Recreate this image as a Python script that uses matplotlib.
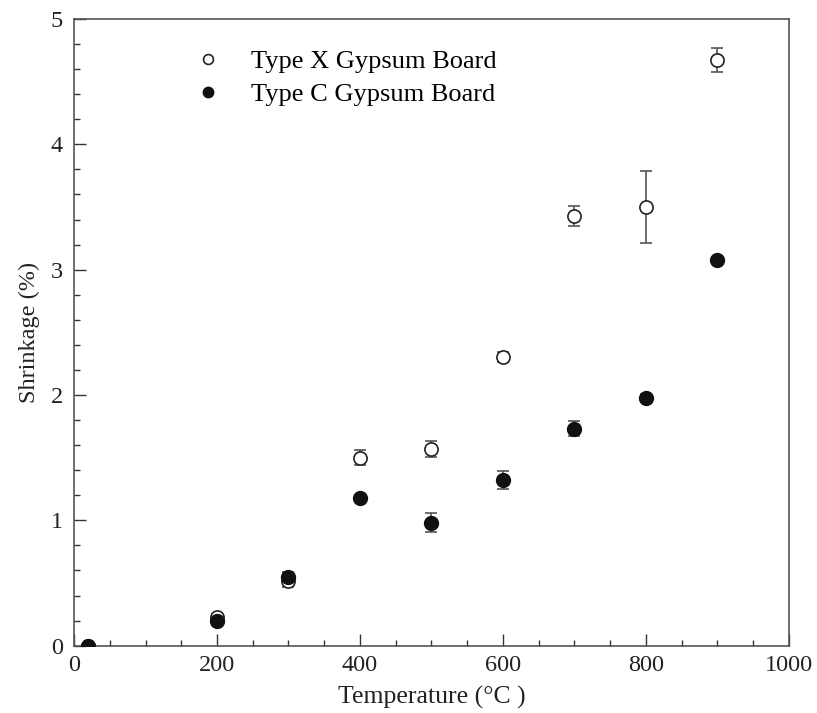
import matplotlib
matplotlib.use("Agg")
import matplotlib.pyplot as plt
from matplotlib.ticker import MultipleLocator

plt.rcParams['font.family'] = ['Liberation Serif', 'DejaVu Serif']

temps = [20, 200, 300, 400, 500, 600, 700, 800, 900]
type_x = [0.0, 0.23, 0.52, 1.50, 1.57, 2.30, 3.43, 3.50, 4.67]
type_x_err = [0.0, 0.02, 0.05, 0.06, 0.065, 0.04, 0.08, 0.285, 0.095]
type_c = [0.0, 0.20, 0.55, 1.18, 0.98, 1.32, 1.73, 1.98, 3.08]
type_c_err = [0.0, 0.03, 0.04, 0.0, 0.076, 0.07, 0.06, 0.03, 0.0]

fig = plt.figure(figsize=(8.17, 7.13), dpi=100)
ax = fig.add_axes([0.0906, 0.0944, 0.875, 0.879])

ecol = '#555555'
ax.errorbar(temps, type_x, yerr=type_x_err, fmt='o', mfc='white', mec='#222222',
            mew=1.2, ms=9.5, ecolor=ecol, elinewidth=1.2, capsize=4.2, capthick=1.2,
            label='Type X Gypsum Board', zorder=3)
ax.errorbar(temps, type_c, yerr=type_c_err, fmt='o', mfc='#111111', mec='#111111',
            ms=10, ecolor=ecol, elinewidth=1.2, capsize=4.2, capthick=1.2,
            label='Type C Gypsum Board', zorder=4)

ax.set_xlim(0, 1000)
ax.set_ylim(0, 5)
ax.xaxis.set_major_locator(MultipleLocator(200))
ax.xaxis.set_minor_locator(MultipleLocator(50))
ax.yaxis.set_major_locator(MultipleLocator(1))
ax.yaxis.set_minor_locator(MultipleLocator(0.2))
ax.tick_params(which='both', direction='in', top=False, right=False, colors='#333333',
               labelcolor='#222222', labelsize=17.5)
ax.tick_params(axis='x', which='major', pad=7)
ax.tick_params(axis='y', which='major', pad=8)
ax.tick_params(which='major', length=8.5, width=1)
ax.tick_params(which='minor', length=4.5, width=1)
for s in ax.spines.values():
    s.set_color('#555555')
    s.set_linewidth(1.2)

ax.set_xlabel('Temperature (°C )', fontsize=18.5, color='#222222', labelpad=6.5)
ax.set_ylabel('Shrinkage (%)', fontsize=17.5, color='#222222', labelpad=8)

handles, labels = ax.get_legend_handles_labels()
handles = [h[0] for h in handles]
ax.legend(handles, labels, loc='upper left', bbox_to_anchor=(0.127, 0.989), frameon=False,
          fontsize=19, handletextpad=0.85, labelspacing=0.35, handlelength=1.5,
          markerscale=0.75)

fig.savefig('out.png', dpi=100)
